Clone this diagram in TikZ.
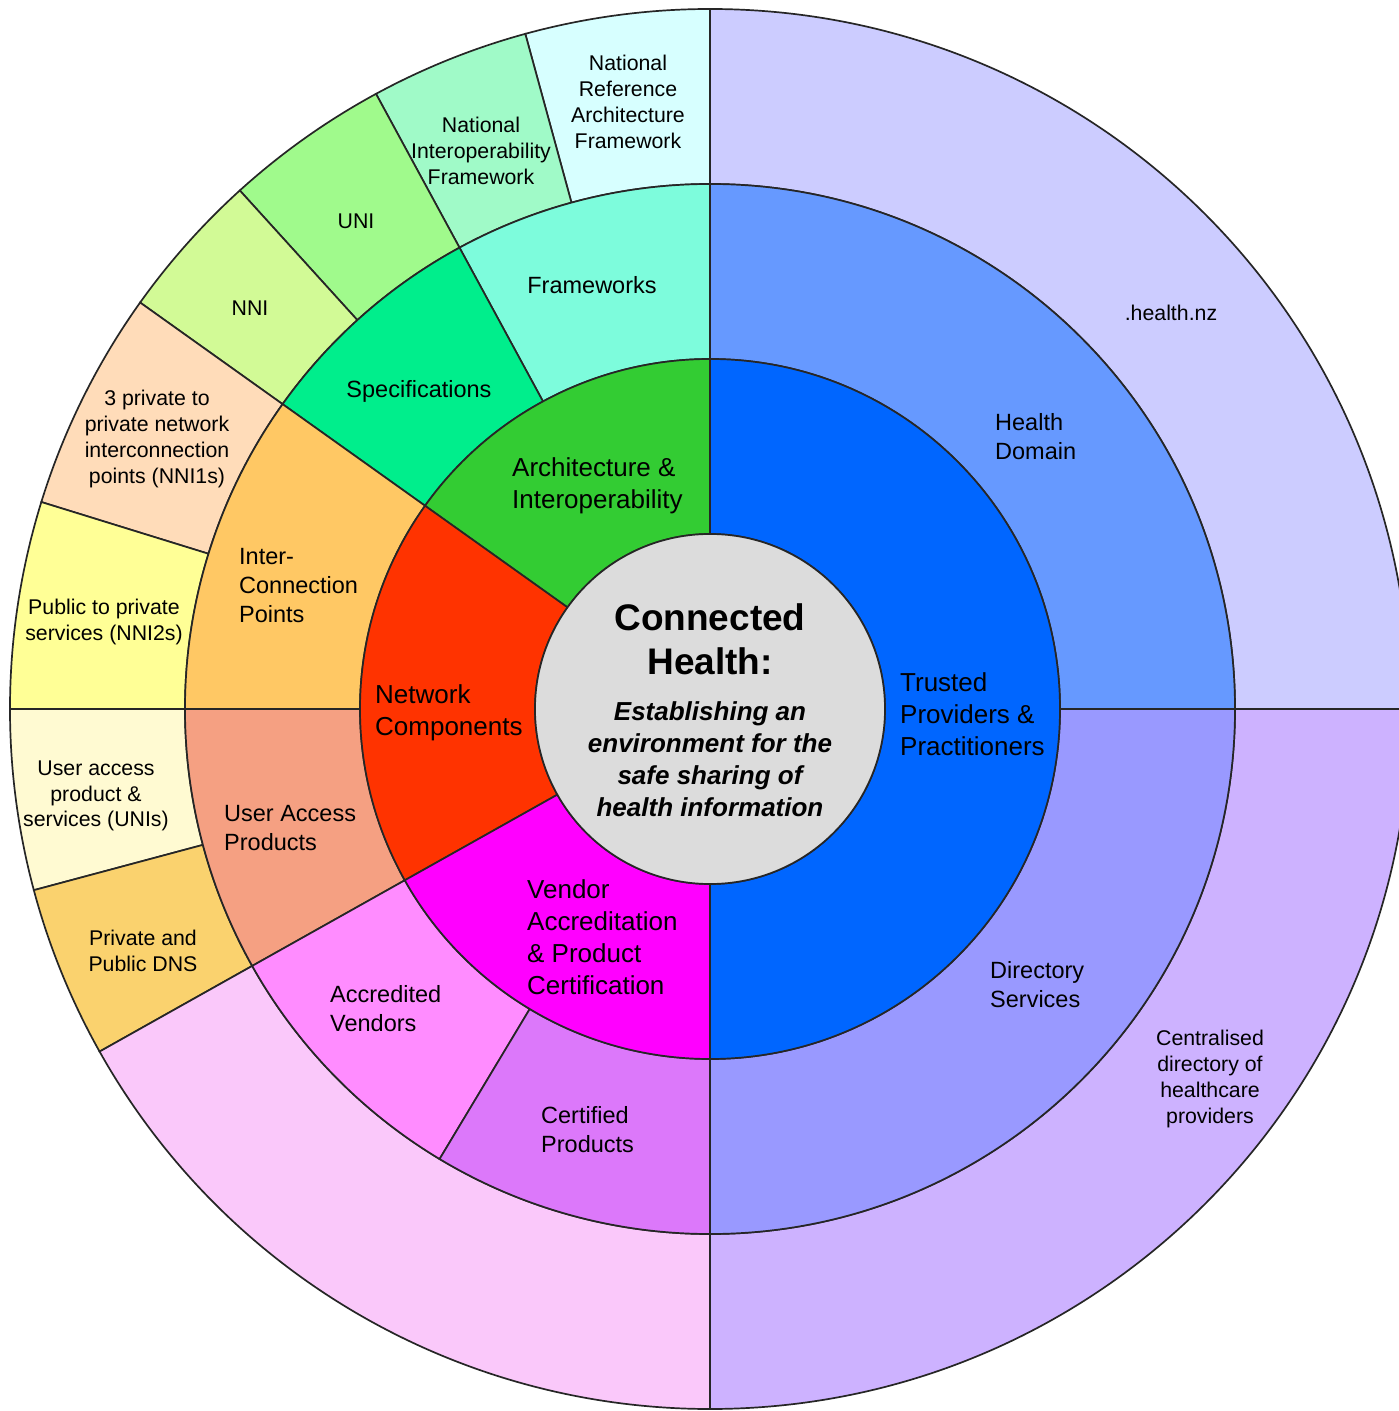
\documentclass[tikz,border=0pt]{standalone}
\usepackage{fontspec}
\setmainfont{Liberation Sans}
\usetikzlibrary{calc}

\definecolor{hubgray}{RGB}{220,220,220}
\definecolor{trustblue}{RGB}{0,102,255}
\definecolor{archgreen}{RGB}{51,204,51}
\definecolor{netred}{RGB}{255,51,0}
\definecolor{vendmag}{RGB}{255,0,255}
\definecolor{domblue}{RGB}{102,153,255}
\definecolor{dirblue}{RGB}{153,153,255}
\definecolor{frameaqua}{RGB}{125,252,220}
\definecolor{specgreen}{RGB}{0,238,140}
\definecolor{icporange}{RGB}{255,200,100}
\definecolor{uapsalmon}{RGB}{245,160,130}
\definecolor{accpink}{RGB}{255,140,255}
\definecolor{certpurple}{RGB}{220,120,250}
\definecolor{nzlav}{RGB}{204,204,255}
\definecolor{cenlilac}{RGB}{205,178,255}
\definecolor{nracyan}{RGB}{215,255,255}
\definecolor{nifmint}{RGB}{160,250,200}
\definecolor{unigreen}{RGB}{160,250,140}
\definecolor{nnilime}{RGB}{210,250,150}
\definecolor{peach}{RGB}{255,220,185}
\definecolor{pubyellow}{RGB}{255,255,150}
\definecolor{paleyellow}{RGB}{255,250,210}
\definecolor{dnsgold}{RGB}{250,210,110}
\definecolor{lightpink}{RGB}{250,200,250}

\begin{document}
\begin{tikzpicture}[x=1pt,y=1pt,
  sector/.style={draw=black!85,line width=1.7pt},
  hub node/.style={align=center,inner sep=0pt},
  inner node/.style={align=left,inner sep=0pt,anchor=west,font=\fontsize{26}{32}\selectfont},
  mid node/.style={align=left,inner sep=0pt,anchor=west,font=\fontsize{23.5}{29}\selectfont},
  outer node/.style={align=center,inner sep=0pt,font=\fontsize{21.3}{25.8}\selectfont}]

\useasboundingbox (-710,-702) rectangle (689,709);

% outer ring
\filldraw[sector,fill=nzlav] (0:525) arc[start angle=0,end angle=90,radius=525] -- (90:700) arc[start angle=90,end angle=0,radius=700] -- cycle;
\filldraw[sector,fill=nracyan] (90:525) arc[start angle=90,end angle=105.3,radius=525] -- (105.3:700) arc[start angle=105.3,end angle=90,radius=700] -- cycle;
\filldraw[sector,fill=nifmint] (105.3:525) arc[start angle=105.3,end angle=118.5,radius=525] -- (118.5:700) arc[start angle=118.5,end angle=105.3,radius=700] -- cycle;
\filldraw[sector,fill=unigreen] (118.5:525) arc[start angle=118.5,end angle=132.2,radius=525] -- (132.2:700) arc[start angle=132.2,end angle=118.5,radius=700] -- cycle;
\filldraw[sector,fill=nnilime] (132.2:525) arc[start angle=132.2,end angle=144.5,radius=525] -- (144.5:700) arc[start angle=144.5,end angle=132.2,radius=700] -- cycle;
\filldraw[sector,fill=peach] (144.5:525) arc[start angle=144.5,end angle=162.8,radius=525] -- (162.8:700) arc[start angle=162.8,end angle=144.5,radius=700] -- cycle;
\filldraw[sector,fill=pubyellow] (162.8:525) arc[start angle=162.8,end angle=180,radius=525] -- (180:700) arc[start angle=180,end angle=162.8,radius=700] -- cycle;
\filldraw[sector,fill=paleyellow] (180:525) arc[start angle=180,end angle=195,radius=525] -- (195:700) arc[start angle=195,end angle=180,radius=700] -- cycle;
\filldraw[sector,fill=dnsgold] (195:525) arc[start angle=195,end angle=209.3,radius=525] -- (209.3:700) arc[start angle=209.3,end angle=195,radius=700] -- cycle;
\filldraw[sector,fill=lightpink] (209.3:525) arc[start angle=209.3,end angle=270,radius=525] -- (270:700) arc[start angle=270,end angle=209.3,radius=700] -- cycle;
\filldraw[sector,fill=cenlilac] (270:525) arc[start angle=270,end angle=360,radius=525] -- (360:700) arc[start angle=360,end angle=270,radius=700] -- cycle;

% middle ring
\filldraw[sector,fill=domblue] (0:350) arc[start angle=0,end angle=90,radius=350] -- (90:525) arc[start angle=90,end angle=0,radius=525] -- cycle;
\filldraw[sector,fill=frameaqua] (90:350) arc[start angle=90,end angle=118.5,radius=350] -- (118.5:525) arc[start angle=118.5,end angle=90,radius=525] -- cycle;
\filldraw[sector,fill=specgreen] (118.5:350) arc[start angle=118.5,end angle=144.5,radius=350] -- (144.5:525) arc[start angle=144.5,end angle=118.5,radius=525] -- cycle;
\filldraw[sector,fill=icporange] (144.5:350) arc[start angle=144.5,end angle=180,radius=350] -- (180:525) arc[start angle=180,end angle=144.5,radius=525] -- cycle;
\filldraw[sector,fill=uapsalmon] (180:350) arc[start angle=180,end angle=209.3,radius=350] -- (209.3:525) arc[start angle=209.3,end angle=180,radius=525] -- cycle;
\filldraw[sector,fill=accpink] (209.3:350) arc[start angle=209.3,end angle=239,radius=350] -- (239:525) arc[start angle=239,end angle=209.3,radius=525] -- cycle;
\filldraw[sector,fill=certpurple] (239:350) arc[start angle=239,end angle=270,radius=350] -- (270:525) arc[start angle=270,end angle=239,radius=525] -- cycle;
\filldraw[sector,fill=dirblue] (270:350) arc[start angle=270,end angle=360,radius=350] -- (360:525) arc[start angle=360,end angle=270,radius=525] -- cycle;

% inner ring
\filldraw[sector,fill=trustblue] (-90:175) arc[start angle=-90,end angle=90,radius=175] -- (90:350) arc[start angle=90,end angle=-90,radius=350] -- cycle;
\filldraw[sector,fill=archgreen] (90:175) arc[start angle=90,end angle=144.5,radius=175] -- (144.5:350) arc[start angle=144.5,end angle=90,radius=350] -- cycle;
\filldraw[sector,fill=netred] (144.5:175) arc[start angle=144.5,end angle=209.3,radius=175] -- (209.3:350) arc[start angle=209.3,end angle=144.5,radius=350] -- cycle;
\filldraw[sector,fill=vendmag] (209.3:175) arc[start angle=209.3,end angle=270,radius=175] -- (270:350) arc[start angle=270,end angle=209.3,radius=350] -- cycle;

\filldraw[sector,fill=hubgray] (0,0) circle[radius=175];

\node[hub node,font=\bfseries\fontsize{37}{44}\selectfont](H1) at (0,70) {Connected\\Health:};
\node[hub node,font=\bfseries\itshape\fontsize{26}{32}\selectfont](H2) at (0,-50) {Establishing an\\environment for the\\safe sharing of\\health information};

\node[inner node](A1) at (-198,223) {Architecture \&\\Interoperability};
\node[inner node](N1) at (-335,-4) {Network\\Components};
\node[inner node](T1) at (190,-5) {Trusted\\Providers \&\\Practitioners};
\node[inner node](V1) at (-183,-228) {Vendor\\Accreditation\\\& Product\\Certification};

\node[mid node,anchor=center](A2) at (-118,424) {Frameworks};
\node[mid node,anchor=center](A3) at (-291,318) {Specifications};
\node[mid node](N2) at (-471,123) {Inter-\\Connection\\Points};
\node[mid node](N3) at (-486,-119) {User Access\\Products};
\node[mid node](V2) at (-380,-300) {Accredited\\Vendors};
\node[mid node](V3) at (-169,-421) {Certified\\Products};
\node[mid node](T2) at (285,272) {Health\\Domain};
\node[mid node](T3) at (280,-276) {Directory\\Services};

\node[outer node](A4) at (-82,607) {National\\Reference\\Architecture\\Framework};
\node[outer node](A5) at (-229,558) {National\\Interoperability\\Framework};
\node[outer node](A6) at (-354,488) {UNI};
\node[outer node](A7) at (-460,401) {NNI};
\node[outer node](N4) at (-553,270) {3 private to\\private network\\interconnection\\points (NNI1s)};
\node[outer node](N5) at (-606,87) {Public to private\\services (NNI2s)};
\node[outer node](N6) at (-614,-87) {User access\\product \&\\services (UNIs)};
\node[outer node](N7) at (-567,-242) {Private and\\Public DNS};
\node[outer node](T4) at (461,396) {.health.nz};
\node[outer node](T5) at (500,-370) {Centralised\\directory of\\healthcare\\providers};

\end{tikzpicture}
\end{document}
